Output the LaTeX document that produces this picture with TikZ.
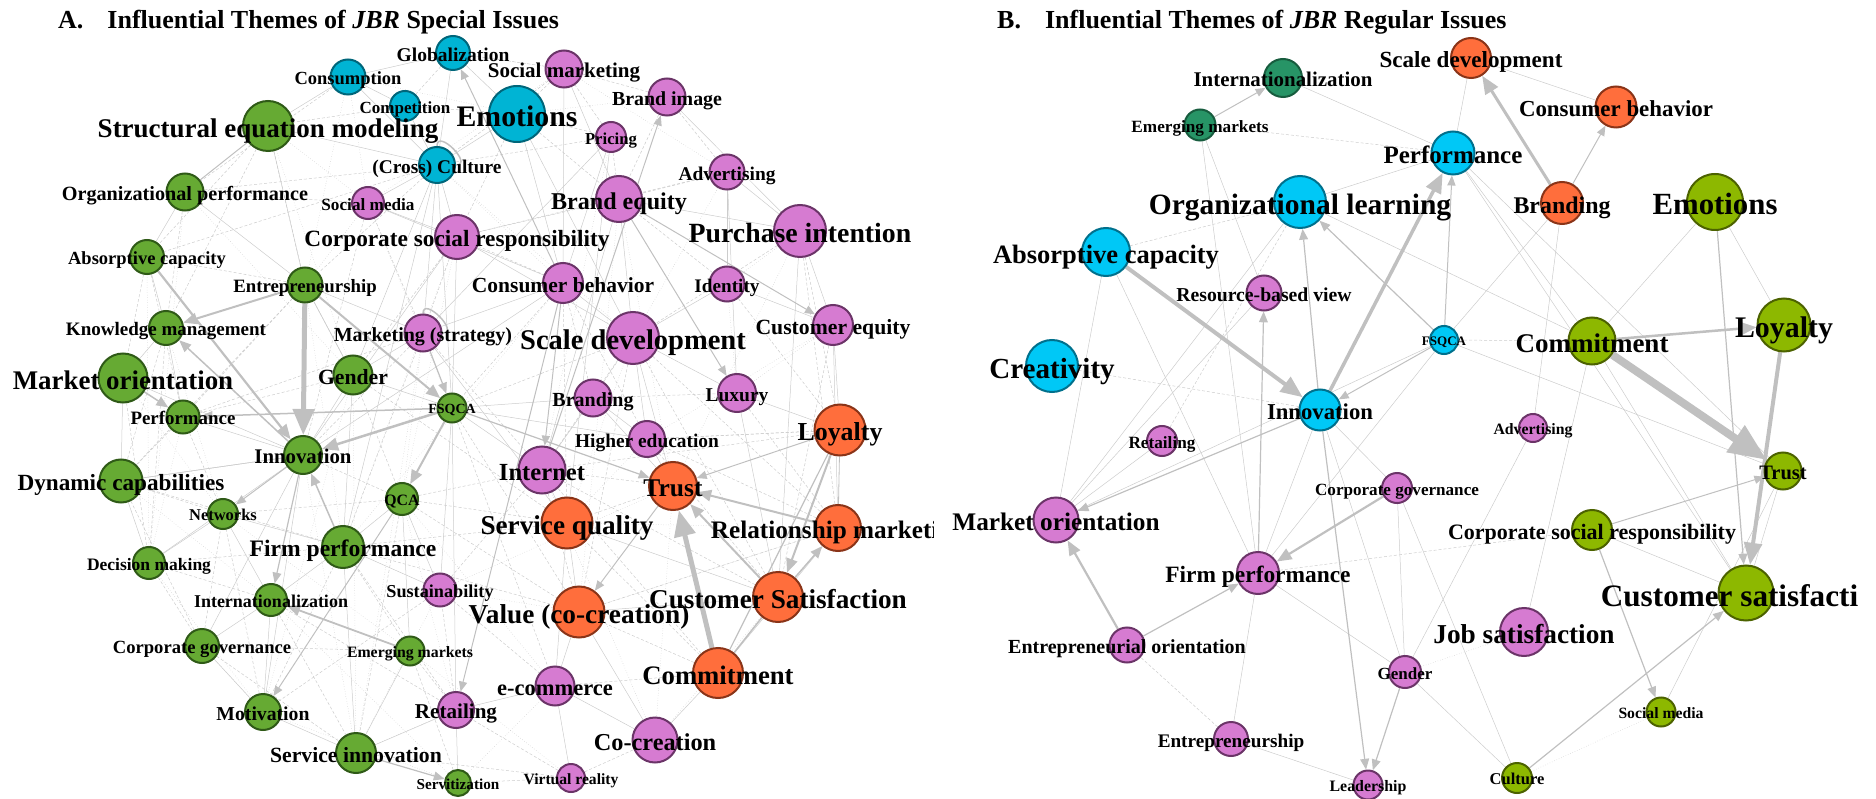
\documentclass[tikz,border=0pt]{standalone}
\usepackage{fontspec}
\setmainfont{Liberation Serif}
\usetikzlibrary{arrows.meta,backgrounds}

\definecolor{grfill}{HTML}{66AA33}
\definecolor{grline}{HTML}{2F5A17}
\definecolor{cyfill}{HTML}{00B4D4}
\definecolor{cyline}{HTML}{00667A}
\definecolor{pkfill}{HTML}{D67BD1}
\definecolor{pkline}{HTML}{6B3468}
\definecolor{orfill}{HTML}{FF6E3C}
\definecolor{orline}{HTML}{8A3418}
\definecolor{bcyfill}{HTML}{00C8F6}
\definecolor{bcyline}{HTML}{00708C}
\definecolor{dgfill}{HTML}{279466}
\definecolor{dgline}{HTML}{175C3E}
\definecolor{olfill}{HTML}{8DB800}
\definecolor{olline}{HTML}{4C6200}
\definecolor{agray}{HTML}{C0C0C0}
\definecolor{lgray}{HTML}{CCCCCC}

\tikzset{
  theme/.style={circle, inner sep=0pt, line width=2pt},
  grA/.style={theme, fill=grfill, draw=grline, minimum size=#1pt},
  cyA/.style={theme, fill=cyfill, draw=cyline, minimum size=#1pt},
  pkA/.style={theme, fill=pkfill, draw=pkline, minimum size=#1pt},
  orA/.style={theme, fill=orfill, draw=orline, minimum size=#1pt},
  cyB/.style={theme, fill=bcyfill, draw=bcyline, minimum size=#1pt},
  dgB/.style={theme, fill=dgfill, draw=dgline, minimum size=#1pt},
  olB/.style={theme, fill=olfill, draw=olline, minimum size=#1pt},
  lbl/.style={font=\fontsize{#1}{#1}\selectfont\bfseries, inner sep=0pt,
    anchor=base, yshift={-0.42*#1*1pt}},
  ttl/.style={font=\fontsize{26}{26}\selectfont\bfseries, inner sep=0pt, anchor=base west},
  arr/.style={draw=agray, line width=#1pt, -{Triangle[length=6pt 4, width=5pt 3.2]}},
  ln/.style={draw=agray, line width=#1pt},
  wk/.style={draw=lgray, line width=.5pt},
  wkd/.style={wk, dash pattern=on 3pt off 2pt},
  wkt/.style={wk, dotted},
}

\begin{document}
\begin{tikzpicture}[x=1pt, y=-1pt]
  \useasboundingbox (0,0) rectangle (1876,799);

  % titles
  \node[ttl] (titA) at (58,29) {A.\hspace{24pt}Influential Themes of \textit{JBR} Special Issues};
  \node[ttl] (titB) at (997,29) {B.\hspace{24pt}Influential Themes of \textit{JBR} Regular Issues};

  % A: special issues, themes
  \node[cyA=34] (glob) at (453,53) {};
  \node[cyA=35] (cons) at (348,77) {};
  \node[cyA=30] (comp) at (405,106) {};
  \node[cyA=56] (emo) at (517,114) {};
  \node[cyA=36] (cult) at (437,165) {};
  \node[grA=50] (sem) at (268,126) {};
  \node[grA=37] (orgp) at (185,192) {};
  \node[grA=34] (absc) at (147,257) {};
  \node[grA=35] (entr) at (305,285) {};
  \node[grA=34] (km) at (166,328) {};
  \node[grA=49] (mo) at (123,378) {};
  \node[grA=39] (gen) at (353,375) {};
  \node[grA=33] (perf) at (183,417) {};
  \node[grA=29] (fsqca) at (452,408) {};
  \node[grA=38] (inno) at (303,455) {};
  \node[grA=43] (dync) at (121,481) {};
  \node[grA=30] (netw) at (223,514) {};
  \node[grA=32] (qca) at (402,499) {};
  \node[grA=42] (firm) at (343,547) {};
  \node[grA=32] (decm) at (149,563) {};
  \node[grA=32] (intl) at (271,600) {};
  \node[grA=34] (cgov) at (202,646) {};
  \node[grA=29] (emkt) at (410,651) {};
  \node[grA=36] (moti) at (263,712) {};
  \node[grA=40] (serv) at (356,753) {};
  \node[grA=26] (srvz) at (458,783) {};
  \node[pkA=37] (socmk) at (564,69) {};
  \node[pkA=37] (bimg) at (667,97) {};
  \node[pkA=30] (pric) at (611,137) {};
  \node[pkA=35] (adv) at (727,172) {};
  \node[pkA=32] (socm) at (368,203) {};
  \node[pkA=44] (csr) at (457,237) {};
  \node[pkA=46] (beq) at (619,199) {};
  \node[pkA=52] (pint) at (800,231) {};
  \node[pkA=40] (cbeh) at (563,283) {};
  \node[pkA=35] (iden) at (727,284) {};
  \node[pkA=37] (mkts) at (423,333) {};
  \node[pkA=40] (ceq) at (833,325) {};
  \node[pkA=52] (scal) at (633,338) {};
  \node[pkA=37] (bran) at (593,398) {};
  \node[pkA=38] (lux) at (737,393) {};
  \node[pkA=36] (hied) at (647,439) {};
  \node[pkA=47] (inet) at (542,470) {};
  \node[pkA=33] (sust) at (440,590) {};
  \node[pkA=36] (reta) at (456,710) {};
  \node[pkA=39] (ecom) at (555,686) {};
  \node[pkA=45] (cocr) at (655,740) {};
  \node[pkA=28] (vr) at (571,778) {};
  \node[orA=51] (loya) at (840,430) {};
  \node[orA=48] (trust) at (673,486) {};
  \node[orA=51] (sq) at (567,523) {};
  \node[orA=46] (relm) at (838,528) {};
  \node[orA=50] (csat) at (778,597) {};
  \node[orA=51] (vcc) at (579,612) {};
  \node[orA=50] (comm) at (718,673) {};

  % B: regular issues, themes
  \node[dgB=38] (bintl) at (1283,78) {};
  \node[dgB=31] (bemkt) at (1200,125) {};
  \node[cyB=52] (bolrn) at (1300,202) {};
  \node[cyB=48] (babsc) at (1106,252) {};
  \node[cyB=52] (bcrea) at (1052,366) {};
  \node[cyB=43] (bperf) at (1453,153) {};
  \node[cyB=28] (bfsqca) at (1444,340) {};
  \node[cyB=41] (binno) at (1320,410) {};
  \node[orA=40] (bscal) at (1471,58) {};
  \node[orA=41] (bcbeh) at (1616,107) {};
  \node[orA=42] (bbran) at (1562,203) {};
  \node[pkA=35] (brbv) at (1264,293) {};
  \node[pkA=30] (breta) at (1162,441) {};
  \node[pkA=30] (bcgov) at (1397,488) {};
  \node[pkA=45] (bmo) at (1056,520) {};
  \node[pkA=42] (bfirm) at (1258,573) {};
  \node[pkA=35] (beo) at (1127,645) {};
  \node[pkA=32] (bgen) at (1405,672) {};
  \node[pkA=34] (bentr) at (1231,739) {};
  \node[pkA=29] (blead) at (1368,785) {};
  \node[pkA=28] (badv) at (1533,428) {};
  \node[pkA=48] (bjobs) at (1524,632) {};
  \node[olB=56] (bemo) at (1715,202) {};
  \node[olB=47] (bcomm) at (1592,341) {};
  \node[olB=53] (bloya) at (1784,325) {};
  \node[olB=37] (btrust) at (1783,471) {};
  \node[olB=40] (bcsr) at (1592,530) {};
  \node[olB=55] (bcsat) at (1746,593) {};
  \node[olB=29] (bsocm) at (1661,712) {};
  \node[olB=30] (bcult) at (1517,778) {};

  \begin{scope}[on background layer]
    % A: faint co-citation web
    \foreach \a/\b in {sem/cult, orgp/entr, orgp/absc, absc/km, cult/csr, cult/gen, cult/fsqca, cult/mkts,
      cult/firm, emo/cbeh, emo/cult, socmk/beq, socmk/cbeh, bimg/pint, pric/cbeh, pric/mkts, adv/pint,
      adv/iden, beq/scal, beq/pint, pint/ceq, pint/csat, cbeh/scal, cbeh/mkts, cbeh/inno, mkts/gen, mkts/sq,
      scal/lux, scal/trust, scal/hied, iden/ceq, ceq/loya, ceq/relm, lux/loya, lux/csat, hied/trust,
      hied/fsqca, relm/comm, csat/vcc, csat/sq, sq/inet, sq/vcc, sq/ecom, vcc/ecom, vcc/cocr, ecom/reta,
      ecom/vr, ecom/cocr, cocr/comm, reta/srvz, reta/serv, serv/moti, serv/firm, serv/emkt, moti/intl,
      moti/cgov, intl/cgov, intl/firm, intl/netw, firm/qca, firm/sust, firm/netw, firm/gen, qca/sust,
      qca/emkt, netw/decm, decm/dync, dync/mo, dync/inno, mo/km, mo/inno, perf/inno, perf/km, gen/inno,
      gen/entr, gen/fsqca, inno/decm, inno/dync, inno/cgov, inno/moti, entr/sem, entr/gen, entr/mkts,
      fsqca/sust, fsqca/reta, fsqca/inet, fsqca/bran, bran/inet, bran/trust, bran/hied, glob/cons,
      glob/cult, glob/emo, cons/comp, cons/sem, comp/cult, socm/cult, socm/csr, socm/cbeh, csr/inno,
      csr/scal, csr/fsqca, beq/inet, iden/scal, adv/lux, pric/sq, emo/scal, cons/cult}
      \draw[wk] (\a) -- (\b);
    \foreach \a/\b in {sem/absc, sem/km, sem/entr, orgp/cult, orgp/socm, orgp/km, absc/mo, absc/perf,
      absc/entr, km/dync, km/decm, mo/decm, dync/netw, dync/cgov, perf/netw, perf/dync, decm/intl,
      decm/cgov, cgov/netw, cgov/emkt, moti/netw, intl/serv, serv/vr, srvz/emkt, srvz/vr, vr/cocr,
      vr/reta, reta/sust, sust/ecom, sust/inet, emkt/reta, qca/inet, qca/vcc, firm/vcc, firm/reta,
      sq/firm, sq/qca, inet/vcc, inet/trust, trust/sq, hied/csat, hied/loya, bran/scal, bran/lux,
      lux/relm, ceq/csat, iden/loya, iden/beq, adv/bimg, adv/beq, adv/csr, bimg/socmk, bimg/beq,
      pric/beq, pric/socmk, socmk/cult, socmk/emo, socmk/glob, emo/beq, emo/csr, emo/pric, comp/sem,
      comp/emo, glob/comp, cons/orgp, cult/absc, cult/entr, cult/pric, socm/mkts, socm/inno, csr/beq,
      csr/mkts, csr/gen, csr/cbeh, cbeh/fsqca, cbeh/bran, cbeh/hied, cbeh/sq, mkts/inno, mkts/perf,
      mkts/firm, mkts/inet, gen/perf, gen/qca, gen/sq, scal/inet, scal/vcc, scal/csat, scal/relm,
      pint/loya, pint/scal, pint/relm, entr/perf, entr/dync, inno/fsqca, inno/qca, fsqca/scal,
      fsqca/vcc, fsqca/ecom, qca/serv, firm/emkt, firm/moti, firm/decm, dync/firm, netw/qca, intl/reta,
      cgov/serv, moti/sust, comm/vcc, comm/ecom, comm/sq, comm/inet, relm/vcc, relm/hied, loya/inet,
      loya/hied, csat/inet}
      \draw[wkd] (\a) -- (\b);
    \foreach \a/\b in {cons/socm, cons/emo, cons/entr, glob/socmk, sem/socm, sem/gen, orgp/gen,
      orgp/decm, absc/decm, km/netw, mo/netw, perf/decm, dync/intl, netw/emkt, decm/moti, cgov/moti,
      intl/emkt, intl/srvz, moti/srvz, serv/reta, serv/sust, srvz/ecom, emkt/vr, sust/vcc, sust/trust,
      qca/reta, qca/ecom, inet/cocr, cocr/csat, vcc/relm, sq/relm, sq/hied, trust/cocr, hied/ceq,
      iden/pint, iden/lux, adv/socmk, adv/scal, bimg/emo, pric/inet, socmk/socm, cult/cbeh, cult/scal,
      socm/entr, socm/fsqca, csr/firm, csr/qca, cbeh/firm, mkts/qca, mkts/serv, gen/serv, gen/moti,
      inno/serv, entr/firm, scal/sq, beq/trust, beq/vcc, pint/trust, ceq/lux}
      \draw[wkt] (\a) -- (\b);

    % A: stronger links
    \foreach \a/\b/\w in {sem/orgp/1, comm/csat/1.5, comm/loya/1.2, loya/relm/.8}
      \draw[ln=\w] (\a) -- (\b);
    \foreach \a/\b/\w in {entr/inno/5, entr/km/2, entr/fsqca/2, absc/inno/2.2, mo/perf/1.5,
      inno/km/1.5, fsqca/perf/1.5, fsqca/inno/2.5, fsqca/qca/2, firm/inno/1.5, inno/intl/1.2,
      inno/netw/1, emkt/intl/1.8, qca/moti/1, serv/srvz/1.2, cbeh/reta/1, cbeh/inet/1,
      fsqca/trust/1.2, loya/trust/1, relm/trust/2, comm/trust/5, csat/trust/2, loya/csat/2,
      csat/relm/1.5, trust/vcc/1, inet/bimg/1, cbeh/glob/1, beq/ceq/1, beq/lux/1, mkts/fsqca/1.2}
      \draw[arr=\w] (\a) -- (\b);

    % A: self loops
    \draw[ln=1.5] (cult.north) .. controls +(0,-18) and +(18,0) .. (cult.east);
    \draw[ln=1.5] (mkts.north) .. controls +(0,-18) and +(18,0) .. (mkts.east);

    % B: faint links
    \foreach \a/\b in {bintl/bperf, bolrn/bperf, bemkt/brbv, bemkt/bfirm, babsc/bfirm, bscal/bperf,
      bscal/bcbeh, bperf/bcomm, bperf/bcsat, bbran/badv, bbran/bfsqca, bemo/bcomm, bemo/bloya,
      bcsr/bcsat, bsocm/btrust, btrust/bcsat, bentr/bfirm, bentr/blead, bmo/breta, bmo/bolrn, bmo/brbv,
      binno/bgen, binno/bcgov, binno/bfirm, bfsqca/bmo, bfsqca/bfirm, bfsqca/btrust, bcomm/bcsat,
      bcomm/bjobs, badv/bgen, bcgov/bgen, bfirm/bgen, bolrn/bcomm, bgen/bcult, bcgov/bcult,
      babsc/bmo, bperf/btrust}
      \draw[wk] (\a) -- (\b);
    \foreach \a/\b in {bcrea/binno, babsc/bolrn, bemkt/bperf, bentr/beo, bfirm/bcsr, bfsqca/bcomm,
      breta/bolrn}
      \draw[wkd] (\a) -- (\b);
    \foreach \a/\b in {bgen/bjobs, bcult/bsocm}
      \draw[wkt] (\a) -- (\b);

    % B: directed links
    \foreach \a/\b/\w in {bemkt/bintl/1, babsc/binno/4, binno/bolrn/1.2, binno/bperf/3.5,
      bfsqca/bperf/1, bfsqca/bolrn/1.2, bfsqca/binno/1, bfirm/brbv/1.2, binno/bmo/1.2,
      bcgov/bfirm/2.2, beo/bmo/2.2, beo/bfirm/1.2, binno/blead/1.2, bgen/blead/1.2, bbran/bscal/3,
      bbran/bcbeh/1, bcomm/btrust/8, bcomm/bloya/2.5, bloya/bcsat/4, bemo/bcsat/1.2,
      bcsr/btrust/1, bcsr/bsocm/1.2, bcult/bcsat/1.2}
      \draw[arr=\w] (\a) -- (\b);
  \end{scope}

  % A: labels
  \begin{scope}
    \clip (0,0) rectangle (933,799);
    \foreach \n/\s/\t in {glob/19.5/Globalization, cons/18.5/Consumption, comp/17/Competition,
      sem/27/Structural equation modeling, cult/19.4/(Cross) Culture,
      orgp/20.2/Organizational performance, socm/17.2/Social media,
      csr/23.3/Corporate social responsibility, absc/18.5/Absorptive capacity,
      entr/18.8/Entrepreneurship, km/19/Knowledge management, mkts/20/Marketing (strategy),
      mo/26.9/Market orientation, gen/21.7/Gender, socmk/21/Social marketing, emo/29.8/Emotions,
      bimg/19.9/Brand image, pric/16.7/Pricing, adv/19.4/Advertising, beq/24.1/Brand equity,
      pint/27.8/Purchase intention, cbeh/21.5/Consumer behavior, iden/19.2/Identity,
      ceq/21.7/Customer equity, scal/28.5/Scale development, bran/20/Branding, lux/19.5/Luxury,
      perf/18.9/Performance, fsqca/14/FSQCA, inno/20.8/Innovation, dync/23.2/Dynamic capabilities,
      netw/16.5/Networks, qca/15.8/QCA, firm/23.6/Firm performance, decm/17.5/Decision making,
      sust/18.2/Sustainability, intl/18/Internationalization, cgov/18.6/Corporate governance,
      emkt/15.8/Emerging markets, moti/19.7/Motivation, reta/21.1/Retailing,
      serv/21.7/Service innovation, srvz/15.2/Servitization, hied/19.4/Higher education,
      loya/25.9/Loyalty, inet/24.6/Internet, trust/25.5/Trust, sq/27.2/Service quality,
      relm/25.2/Relationship marketing, csat/27.2/Customer Satisfaction,
      vcc/27.3/Value (co-creation), comm/26.7/Commitment, ecom/22.5/e-commerce,
      cocr/24.3/Co-creation, vr/15.6/Virtual reality}
      \node[lbl=\s] (\n-t) at (\n) {\t};
  \end{scope}

  % B: labels
  \begin{scope}
    \clip (940,0) rectangle (1858,799);
    \foreach \n/\s/\t in {bintl/20.9/Internationalization, bemkt/17.2/Emerging markets,
      bscal/23.1/Scale development, bcbeh/22.9/Consumer behavior, bperf/25/Performance,
      bolrn/29.5/Organizational learning, bbran/23.9/Branding, bemo/30.8/Emotions,
      babsc/26.5/Absorptive capacity, brbv/19.7/Resource-based view, bfsqca/13/FSQCA,
      bcomm/27/Commitment, bloya/29.9/Loyalty, bcrea/29.1/Creativity, binno/22.7/Innovation,
      breta/17.2/Retailing, bcgov/17.1/Corporate governance, badv/15.8/Advertising,
      btrust/20.5/Trust, bmo/25.3/Market orientation, bfirm/23.4/Firm performance,
      bcsr/22/Corporate social responsibility, bcsat/31.2/Customer satisfaction,
      bjobs/27.3/Job satisfaction, bgen/17/Gender, bsocm/15.7/Social media, bcult/16.5/Culture,
      beo/20/Entrepreneurial orientation, bentr/19.2/Entrepreneurship, blead/15.9/Leadership}
      \node[lbl=\s] (\n-t) at (\n) {\t};
  \end{scope}
\end{tikzpicture}
\end{document}
